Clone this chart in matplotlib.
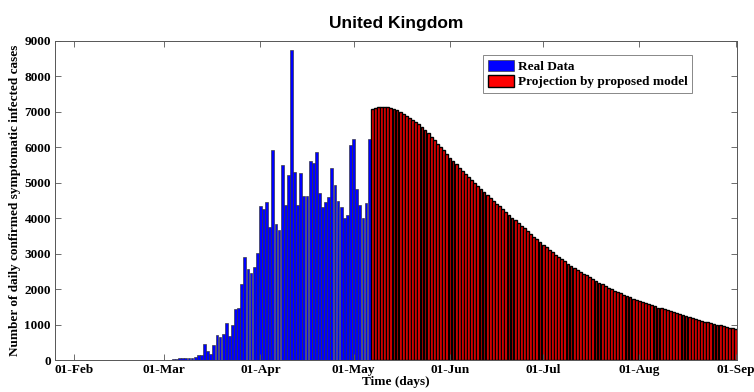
import matplotlib
matplotlib.use("Agg")
import matplotlib.pyplot as plt
import matplotlib.dates as mdates
import pandas as pd

# daily confirmed cases, 31 Jan - 06 May 2020
real_start = "2020-01-31"
real_cases = [
    2, 0, 0, 0, 0, 0, 1, 0, 0, 0, 4, 1, 1, 0, 0, 0, 0, 0, 0, 0,
    0, 0, 0, 0, 4, 0, 2, 2, 5, 3, 12, 4, 11,
    30, 35, 45, 45, 65, 50, 55, 90, 150, 140,
    450, 260, 170, 420, 700, 660, 720, 1050, 680, 985,
    1435, 1460, 2140, 2900, 2570, 2450, 2630, 3030, 4340, 4270,
    4460, 3760, 5925, 3825, 3660, 5510, 4360, 5210, 8740, 5310,
    4360, 5280, 4620, 4640, 5625, 5550, 5880, 4700, 4320, 4470,
    4610, 5420, 4940, 4480, 4320, 4010, 4100, 6060, 6230, 4830,
    4360, 4000, 4430, 6240,
]

# model projection, 07 May - 01 Sep 2020
proj_start = "2020-05-07"
proj_cases = [
    7090, 7120, 7140, 7150, 7145, 7130, 7105, 7075, 7040, 6995,
    6945, 6895, 6840, 6780, 6715, 6650, 6570, 6480, 6390, 6295,
    6200, 6105, 6010, 5910, 5810, 5710, 5610, 5515, 5420, 5330,
    5240, 5150, 5065, 4980, 4895, 4810, 4730, 4650, 4570, 4490,
    4410, 4330, 4250, 4170, 4095, 4015, 3940, 3860, 3785, 3710,
    3630, 3555, 3480, 3405, 3330, 3255, 3180, 3110, 3040, 2975,
    2910, 2845, 2785, 2720, 2660, 2600, 2545, 2490, 2435, 2385,
    2330, 2280, 2230, 2180, 2135, 2090, 2045, 2000, 1960, 1920,
    1880, 1840, 1800, 1765, 1730, 1695, 1660, 1630, 1600, 1570,
    1540, 1510, 1480, 1455, 1425, 1400, 1370, 1345, 1320, 1295,
    1260, 1230, 1205, 1180, 1155, 1130, 1110, 1085, 1065, 1045,
    1020, 1000, 980, 955, 935, 915, 895, 875,
]

yticks = [0, 1000, 2000, 3000, 4000, 5000, 6000, 7000, 8000, 9000]

real_days = pd.date_range(real_start, periods=len(real_cases), freq="D")
proj_days = pd.date_range(proj_start, periods=len(proj_cases), freq="D")

serif = {"family": "Liberation Serif", "weight": "bold", "size": 9.5}
axis_col = "#555555"

fig = plt.figure(figsize=(7.54, 3.92), dpi=100)
ax = fig.add_axes([0.073, 0.0816, 0.904, 0.814])

ax.bar(real_days, real_cases, width=0.9, color="#0000ff",
       edgecolor="#333333", linewidth=0.45, label="Real Data")
ax.bar(proj_days, proj_cases, width=0.9, color="#ff0000",
       edgecolor="black", linewidth=1.0, label="Projection by proposed model")

ax.set_xlim(mdates.date2num(pd.Timestamp("2020-01-26")) - 0.1,
            mdates.date2num(pd.Timestamp("2020-09-01")) + 0.3)
ax.set_ylim(0, 9000)
ax.set_yticks(yticks)
ax.xaxis.set_major_locator(mdates.MonthLocator())
ax.xaxis.set_major_formatter(mdates.DateFormatter("%d-%b"))

# matlab-style box: ticks inside on all four sides
ax.tick_params(direction="in", length=4, width=0.6, color=axis_col,
               top=True, right=True, pad=3)
for sp in ax.spines.values():
    sp.set_color(axis_col)
    sp.set_linewidth(0.7)
for lab in ax.get_xticklabels() + ax.get_yticklabels():
    lab.set_fontproperties(serif)
    lab.set_color("black")

ax.set_xlabel("Time (days)", fontdict=serif, labelpad=0)
ax.set_ylabel("Number of daily confirmed symptomatic infected cases",
              fontdict=serif, labelpad=2)
ax.set_title("United Kingdom", family="Liberation Sans", weight="bold",
             size=12.5, pad=9)

leg = ax.legend(loc="upper right", bbox_to_anchor=(0.935, 0.956),
                prop=serif, fancybox=False, framealpha=1,
                edgecolor="#888888", handlelength=2.0, handleheight=1.0,
                handletextpad=0.3, borderpad=0.35, labelspacing=0.15,
                borderaxespad=0)
leg.get_frame().set_linewidth(0.7)

fig.savefig("out.png", dpi=100)
